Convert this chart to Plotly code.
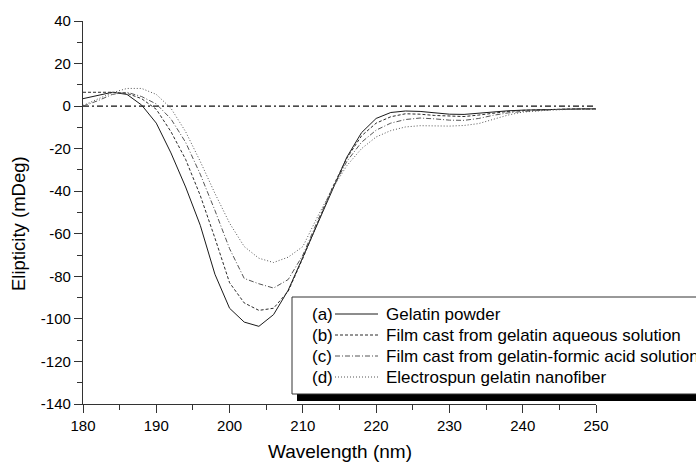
import plotly.graph_objects as go

wavelength = [180, 182, 184, 186, 188, 190, 192, 194, 196, 198, 200, 202, 204, 206, 208, 210, 212, 214,
              216, 218, 220, 222, 224, 226, 228, 230, 232, 234, 236, 238, 240, 242, 244, 246, 248, 250]

gelatin_powder = [3.5, 5, 6.5, 5.5, 0.5, -8, -22, -38, -56, -79, -95, -101.5, -103.5, -98, -86.5, -71, -55.5, -40,
                  -24, -12.5, -5.8, -3, -2.3, -2.5, -3.2, -3.8, -3.9, -3.3, -2.7, -2.2, -1.9, -1.7, -1.5, -1.4, -1.3, -1.3]
film_aqueous = [6.5, 6.5, 6.5, 6, 3.5, -1.5, -12, -25, -42, -62, -83, -92.5, -96, -95, -87, -71.5, -55, -38.5,
                -24.5, -14, -8, -5, -3.6, -3.8, -4.4, -4.8, -4.9, -4.2, -3.2, -2.5, -2, -1.7, -1.5, -1.4, -1.3, -1.3]
film_formic = [0, 2.5, 5.5, 6.5, 4.5, 1, -6, -17, -32, -49, -67, -81, -83.5, -85.5, -81.5, -70, -54, -39,
               -26, -17, -11.3, -8, -6.3, -5.6, -6, -6.6, -6.7, -5.8, -4.3, -3.2, -2.5, -2, -1.7, -1.5, -1.4, -1.3]
electrospun = [0.3, 3.3, 6.3, 8.3, 8.3, 5.5, -1, -12, -26, -41, -55, -66, -71.5, -73.5, -71, -66, -52, -39,
               -28, -20, -14.5, -11.5, -9.8, -9.2, -9.3, -9.4, -9.1, -8.2, -6.2, -4.2, -2.8, -2.2, -1.8, -1.6, -1.5, -1.4]

baseline_x = [180, 251]
baseline_y = [0, 0]

series_tags = ["(a)", "(b)", "(c)", "(d)"]
series_names = ["Gelatin powder", "Film cast from gelatin aqueous solution",
                "Film cast from gelatin-formic acid solution", "Electrospun gelatin nanofiber"]
series_values = [gelatin_powder, film_aqueous, film_formic, electrospun]

x_tick_vals = [180, 190, 200, 210, 220, 230, 240, 250]
x_tick_text = ["180", "190", "200", "210", "220", "230", "240", "250"]
x_minor_vals = [185, 195, 205, 215, 225, 235, 245]
y_tick_vals = [40, 20, 0, -20, -40, -60, -80, -100, -120, -140]
y_tick_text = ["40", "20", "0", "-20", "-40", "-60", "-80", "-100", "-120", "-140"]
y_minor_vals = [30, 10, -10, -30, -50, -70, -90, -110, -130]

styles = [
    dict(color="#1a1a1a", width=1, dash="solid"),
    dict(color="#2a2a2a", width=1, dash="3px,2px"),
    dict(color="#555555", width=1, dash="5px,2px,1px,2px"),
    dict(color="#555555", width=1, dash="1px,2px"),
]

FONT = "Liberation Sans, Arial, sans-serif"
fig = go.Figure()

fig.add_trace(go.Scatter(x=baseline_x, y=baseline_y, mode="lines",
                         line=dict(color="#111111", width=1.2, dash="6px,3px,2px,3px"),
                         showlegend=False, hoverinfo="skip"))

for vals, name, st in zip(series_values, series_names, styles):
    fig.add_trace(go.Scatter(x=wavelength, y=vals, mode="lines", name=name,
                             line=st, showlegend=False))

# plot area pixel geometry
L, R, T, B = 83, 596, 21, 404
W, H = R - L, B - T


def px(xp):
    return (xp - L) / W


def py(yp):
    return (B - yp) / H


shapes = []
annotations = []
# legend shadow + box
shapes.append(dict(type="rect", xref="paper", yref="paper", x0=px(297), x1=px(720), y0=py(401), y1=py(390),
                   line=dict(width=0), fillcolor="black", layer="above"))
shapes.append(dict(type="rect", xref="paper", yref="paper", x0=px(292), x1=px(715), y0=py(394), y1=py(297),
                   line=dict(color="#333333", width=1), fillcolor="white", layer="above"))
rows = [314, 335, 356, 377]
for tag, name, st, ry in zip(series_tags, series_names, styles, rows):
    shapes.append(dict(type="line", xref="paper", yref="paper", x0=px(335), x1=px(378), y0=py(ry), y1=py(ry),
                       line=st, layer="above"))
    annotations.append(dict(xref="paper", yref="paper", x=px(310), y=py(ry), xanchor="left", yanchor="middle",
                            text=tag, showarrow=False, font=dict(size=17, color="black", family=FONT)))
    annotations.append(dict(xref="paper", yref="paper", x=px(384), y=py(ry), xanchor="left", yanchor="middle",
                            text=name, showarrow=False, font=dict(size=17, color="black", family=FONT)))

annotations.append(dict(xref="paper", yref="paper", x=0.5, y=py(451), xanchor="center", yanchor="middle",
                        text="Wavelength (nm)", showarrow=False, font=dict(size=19, color="black", family=FONT)))
annotations.append(dict(xref="paper", yref="paper", x=px(18), y=py(224), xanchor="center", yanchor="middle",
                        text="Elipticity (mDeg)", textangle=-90, showarrow=False,
                        font=dict(size=18.5, color="black", family=FONT)))

fig.update_layout(
    width=696, height=462,
    margin=dict(l=L, r=696 - R, t=T, b=462 - B, pad=0),
    paper_bgcolor="white", plot_bgcolor="white",
    font=dict(family=FONT, size=15, color="black"),
    shapes=shapes, annotations=annotations, showlegend=False,
)
fig.update_xaxes(range=[180, 250], showline=True, linecolor="#333333", linewidth=1.3, showgrid=False,
                 zeroline=False, ticks="outside", ticklen=8, tickwidth=1.2, tickcolor="#333333",
                 tickmode="array", tickvals=x_tick_vals, ticktext=x_tick_text,
                 tickfont=dict(size=15, family=FONT, color="black"),
                 minor=dict(tickmode="array", tickvals=x_minor_vals, ticks="outside", ticklen=5,
                            tickwidth=1.2, tickcolor="#333333", showgrid=False))
fig.update_yaxes(range=[-140, 40], showline=True, linecolor="#333333", linewidth=1.3, showgrid=False,
                 zeroline=False, ticks="outside", ticklen=8, tickwidth=1.2, tickcolor="#333333",
                 tickmode="array", tickvals=y_tick_vals, ticktext=y_tick_text,
                 tickfont=dict(size=15, family=FONT, color="black"),
                 minor=dict(tickmode="array", tickvals=y_minor_vals, ticks="outside", ticklen=5,
                            tickwidth=1.2, tickcolor="#333333", showgrid=False))

fig.write_html("out.html", config={"displayModeBar": False},
               post_script="document.body.style.margin='0';document.body.style.overflow='hidden';")
